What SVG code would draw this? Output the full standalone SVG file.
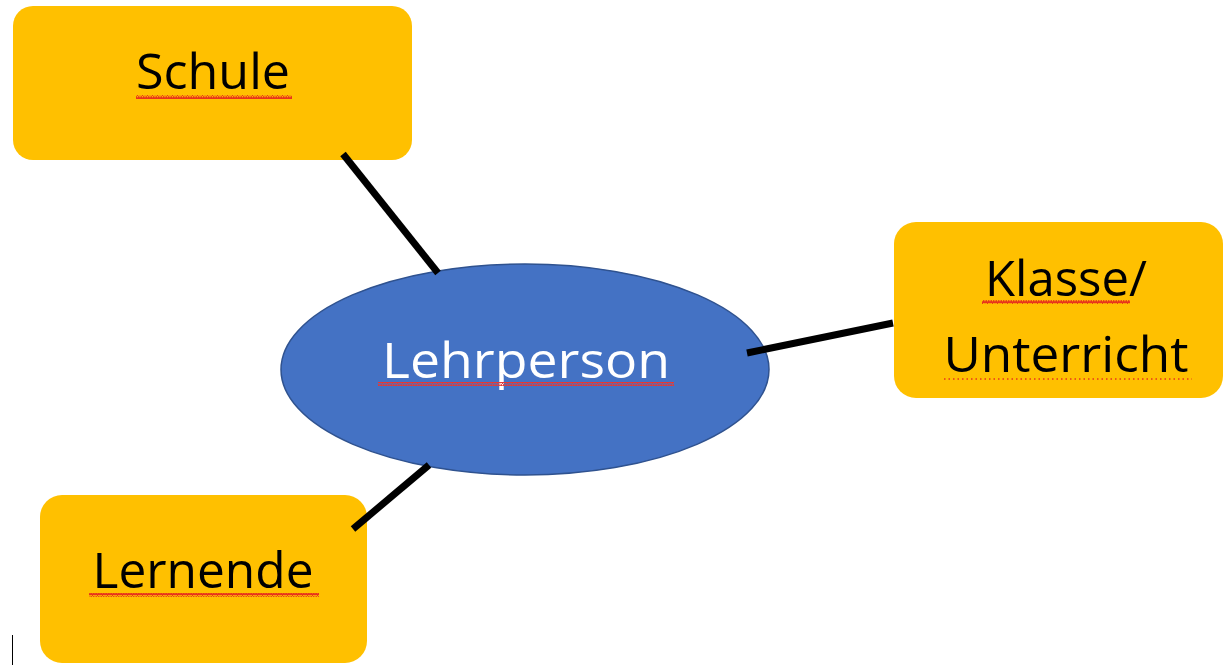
<svg xmlns="http://www.w3.org/2000/svg" width="1224" height="665" viewBox="0 0 1224 665">
  <defs>
    <pattern id="wave" x="0" y="0" width="5" height="4" patternUnits="userSpaceOnUse">
      <polyline points="0,3.3 1.25,0.7 2.5,3.3 3.75,0.7 5,3.3" fill="none" stroke="#E8341C" stroke-width="1.3"/>
    </pattern>
    <pattern id="wave2" x="0" y="0" width="5" height="4" patternUnits="userSpaceOnUse">
      <polyline points="0,3.3 1.25,0.7 2.5,3.3 3.75,0.7 5,3.3" fill="none" stroke="#E53935" stroke-width="1.3"/>
    </pattern>
  </defs>
  <style>
    .box { fill: #FFC000; }
    .label { font-family: "Open Sans", "Liberation Sans", sans-serif; font-size: 49px; fill: #000000; text-anchor: middle; }
    .center { fill: #4472C4; stroke: #2F528F; stroke-width: 1.5; }
    .clabel { font-family: "Open Sans", "Liberation Sans", sans-serif; font-size: 49px; fill: #FFFFFF; text-anchor: middle; }
    .conn { stroke: #000000; stroke-width: 7; fill: none; }
  </style>
  <rect width="1224" height="665" fill="#FFFFFF"/>

  <g id="node-schule">
    <rect class="box" x="13" y="6" width="399" height="154" rx="20" ry="20"/>
    <text class="label" x="213" y="89" textLength="154" lengthAdjust="spacingAndGlyphs">Schule</text>
    <rect x="136" y="95" width="156" height="4" fill="url(#wave)"/>
  </g>

  <g id="node-klasse">
    <rect class="box" x="894" y="222" width="329" height="176" rx="22" ry="22"/>
    <text class="label" x="1066" y="296" textLength="162" lengthAdjust="spacingAndGlyphs">Klasse/</text>
    <rect x="982" y="300" width="148" height="4" fill="url(#wave)"/>
    <text class="label" x="1066" y="372" textLength="245" lengthAdjust="spacingAndGlyphs">Unterricht</text>
    <line x1="944" y1="379" x2="1192" y2="379" stroke="#E8341C" stroke-width="1.3" stroke-dasharray="1.5 3"/>
  </g>

  <g id="node-lernende">
    <rect class="box" x="40" y="495" width="327" height="168" rx="22" ry="22"/>
    <text class="label" x="203" y="588" textLength="221" lengthAdjust="spacingAndGlyphs">Lernende</text>
    <rect x="89" y="593" width="230" height="4" fill="url(#wave)"/>
  </g>

  <g id="node-lehrperson">
    <ellipse class="center" cx="525" cy="369.5" rx="244" ry="105.5"/>
    <text class="clabel" x="526" y="378" textLength="288" lengthAdjust="spacingAndGlyphs">Lehrperson</text>
    <rect x="378" y="382" width="296" height="4" fill="url(#wave2)"/>
  </g>

  <g id="connectors">
    <line class="conn" x1="343" y1="154" x2="438" y2="273"/>
    <line class="conn" x1="747" y1="353" x2="893" y2="323"/>
    <line class="conn" x1="353" y1="529" x2="429" y2="465"/>
  </g>

  <line x1="12.5" y1="635" x2="12.5" y2="665" stroke="#000000" stroke-width="1"/>
</svg>
